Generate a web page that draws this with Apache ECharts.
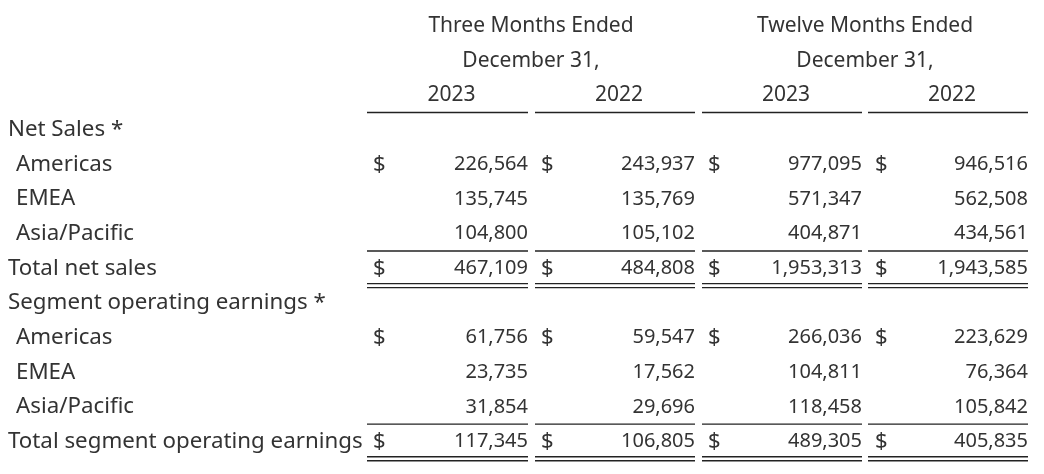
<!DOCTYPE html>
<html><head><meta charset="utf-8">
<script src="https://cdn.jsdelivr.net/npm/echarts@6/dist/echarts.min.js"></script>
<style>html,body{margin:0;padding:0;background:#fff}#c{width:1044px;height:474px}</style>
</head><body><div id="c"></div>
<script>
const rowLabels = ['Net Sales *','Americas','EMEA','Asia/Pacific','Total net sales','Segment operating earnings *','Americas','EMEA','Asia/Pacific','Total segment operating earnings'];
const rowIndent = [0,1,1,1,0,0,1,1,1,0];
const q2023 = [null,226564,135745,104800,467109,null,61756,23735,31854,117345];
const q2022 = [null,243937,135769,105102,484808,null,59547,17562,29696,106805];
const y2023 = [null,977095,571347,404871,1953313,null,266036,104811,118458,489305];
const y2022 = [null,946516,562508,434561,1943585,null,223629,76364,105842,405835];
const dollarRows = [1,4,6,9];
const groupHeaders = [['Three Months Ended','December 31,'],['Twelve Months Ended','December 31,']];
const yearLabels = ['2023','2022','2023','2022'];

const colRight = [528,695,862,1028];
const colLeft = [367,535,702,868];
const dollarX = [373,541,708,875];
const FONT = 'Noto Sans';
const COLOR = '#333';

const texts = [];
groupHeaders.forEach((g,i)=>{
  const cx = (colLeft[i*2]+colRight[i*2+1])/2;
  texts.push([cx,0,g[0],'center',21]);
  texts.push([cx,1,g[1],'center',21]);
});
yearLabels.forEach((y,i)=>texts.push([(colLeft[i]+colRight[i])/2+4,2,y,'center',21]));
rowLabels.forEach((l,i)=>texts.push([rowIndent[i]?16:8,i+3,l,'left',22.3]));
[q2023,q2022,y2023,y2022].forEach((col,c)=>{
  col.forEach((v,i)=>{
    if(v!=null) texts.push([colRight[c],i+3,v.toLocaleString('en-US'),'right',20]);
  });
  dollarRows.forEach(r=>texts.push([dollarX[c],r+3,'$','left',22]));
});

const lines = [];
for(let c=0;c<4;c++){
  lines.push([colLeft[c],colRight[c],2.5,0]);
  lines.push([colLeft[c],colRight[c],6.5,0]);
  lines.push([colLeft[c],colRight[c],11.5,0]);
  lines.push([colLeft[c],colRight[c],7.5,-2]);
  lines.push([colLeft[c],colRight[c],7.5,2]);
  lines.push([colLeft[c],colRight[c],12.5,-2]);
  lines.push([colLeft[c],colRight[c],12.5,2]);
}

const chart = echarts.init(document.getElementById('c'));
chart.setOption({
  animation:false,
  grid:{left:0,right:0,top:0,bottom:6.6},
  xAxis:{type:'value',min:0,max:1044,show:false},
  yAxis:{type:'value',min:-0.75,max:12.75,inverse:true,show:false},
  series:[
    {type:'custom',data:texts,renderItem:(p,api)=>{
      const pt = api.coord([api.value(0),api.value(1)]);
      const d = texts[p.dataIndex];
      return {type:'text',x:pt[0],y:pt[1],style:{text:d[2],fill:COLOR,font:d[4]+'px "'+FONT+'"',align:d[3],verticalAlign:'middle'}};
    }},
    {type:'custom',data:lines,renderItem:(p,api)=>{
      const a = api.coord([api.value(0),api.value(2)]);
      const b = api.coord([api.value(1),api.value(2)]);
      const o = api.value(3);
      return {type:'line',shape:{x1:a[0],y1:a[1]+o,x2:b[0],y2:b[1]+o},style:{stroke:'#222',lineWidth:1.3}};
    }}
  ]
});
</script></body></html>
